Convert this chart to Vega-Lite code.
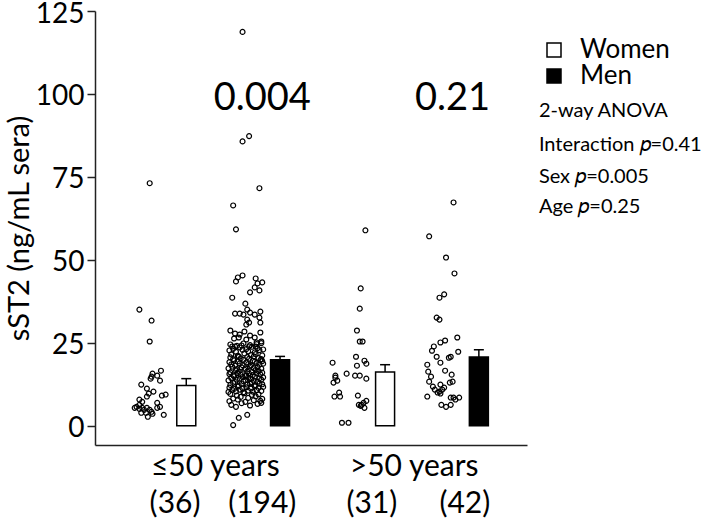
{
  "$schema": "https://vega.github.io/schema/vega-lite/v6.json",
  "autosize": {"type": "none"},
  "padding": {"left": 95, "top": 11, "right": 182, "bottom": 75},
  "width": 432,
  "height": 434,
  "config": {
    "font": "Lato",
    "view": {"stroke": null},
    "axis": {"grid": false, "labelColor": "black", "titleColor": "black"}
  },
  "datasets": {
    "points": [
      {"grp":"Women ≤50","pos":0.42,"value":35.0},{"grp":"Women ≤50","pos":0.55,"value":31.7},{"grp":"Women ≤50","pos":0.53,"value":25.4},{"grp":"Women ≤50","pos":0.65,"value":16.6},{"grp":"Women ≤50","pos":0.56,"value":15.7},{"grp":"Women ≤50","pos":0.55,"value":14.8},{"grp":"Women ≤50","pos":0.61,"value":15.1},{"grp":"Women ≤50","pos":0.64,"value":13.6},{"grp":"Women ≤50","pos":0.54,"value":14.2},{"grp":"Women ≤50","pos":0.44,"value":12.4},{"grp":"Women ≤50","pos":0.50,"value":11.2},{"grp":"Women ≤50","pos":0.57,"value":10.3},{"grp":"Women ≤50","pos":0.52,"value":9.7},{"grp":"Women ≤50","pos":0.66,"value":9.1},{"grp":"Women ≤50","pos":0.70,"value":9.4},{"grp":"Women ≤50","pos":0.50,"value":8.8},{"grp":"Women ≤50","pos":0.42,"value":7.9},{"grp":"Women ≤50","pos":0.45,"value":7.2},{"grp":"Women ≤50","pos":0.61,"value":6.9},{"grp":"Women ≤50","pos":0.64,"value":5.7},{"grp":"Women ≤50","pos":0.37,"value":5.4},{"grp":"Women ≤50","pos":0.42,"value":5.1},{"grp":"Women ≤50","pos":0.47,"value":4.8},{"grp":"Women ≤50","pos":0.50,"value":5.4},{"grp":"Women ≤50","pos":0.55,"value":4.2},{"grp":"Women ≤50","pos":0.61,"value":5.4},{"grp":"Women ≤50","pos":0.39,"value":5.7},{"grp":"Women ≤50","pos":0.44,"value":3.9},{"grp":"Women ≤50","pos":0.51,"value":2.7},{"grp":"Women ≤50","pos":0.56,"value":3.6},{"grp":"Women ≤50","pos":0.68,"value":3.3},{"grp":"Women ≤50","pos":0.42,"value":6.3},{"grp":"Women ≤50","pos":0.49,"value":3.9},{"grp":"Women ≤50","pos":0.45,"value":5.4},{"grp":"Women ≤50","pos":0.53,"value":4.8},{"grp":"Women ≤50","pos":0.53,"value":73.1},

      {"grp":"Men ≤50","pos":1.52,"value":118.7},{"grp":"Men ≤50","pos":1.52,"value":85.7},{"grp":"Men ≤50","pos":1.59,"value":87.3},{"grp":"Men ≤50","pos":1.70,"value":71.6},{"grp":"Men ≤50","pos":1.42,"value":66.4},{"grp":"Men ≤50","pos":1.45,"value":59.2},
      {"grp":"Men ≤50","pos":1.47,"value":44.7},{"grp":"Men ≤50","pos":1.52,"value":45.3},{"grp":"Men ≤50","pos":1.45,"value":43.5},{"grp":"Men ≤50","pos":1.66,"value":44.4},{"grp":"Men ≤50","pos":1.73,"value":43.2},{"grp":"Men ≤50","pos":1.68,"value":42.9},{"grp":"Men ≤50","pos":1.65,"value":41.7},{"grp":"Men ≤50","pos":1.70,"value":40.8},{"grp":"Men ≤50","pos":1.60,"value":40.2},{"grp":"Men ≤50","pos":1.41,"value":38.6},
      {"grp":"Men ≤50","pos":1.55,"value":36.8},{"grp":"Men ≤50","pos":1.57,"value":35.0},{"grp":"Men ≤50","pos":1.44,"value":33.8},{"grp":"Men ≤50","pos":1.49,"value":33.8},{"grp":"Men ≤50","pos":1.53,"value":33.5},{"grp":"Men ≤50","pos":1.60,"value":34.1},{"grp":"Men ≤50","pos":1.65,"value":33.5},{"grp":"Men ≤50","pos":1.71,"value":34.4},{"grp":"Men ≤50","pos":1.70,"value":32.6},{"grp":"Men ≤50","pos":1.57,"value":32.0},
      {"grp":"Men ≤50","pos":1.59,"value":31.1},{"grp":"Men ≤50","pos":1.71,"value":31.1},{"grp":"Men ≤50","pos":1.56,"value":30.5},{"grp":"Men ≤50","pos":1.39,"value":28.7},{"grp":"Men ≤50","pos":1.44,"value":27.8},{"grp":"Men ≤50","pos":1.49,"value":27.5},{"grp":"Men ≤50","pos":1.54,"value":28.4},{"grp":"Men ≤50","pos":1.60,"value":27.2},{"grp":"Men ≤50","pos":1.65,"value":26.6},{"grp":"Men ≤50","pos":1.71,"value":28.1},
      {"grp":"Men ≤50","pos":1.43,"value":26.3},{"grp":"Men ≤50","pos":1.48,"value":26.6},{"grp":"Men ≤50","pos":1.56,"value":26.0},{"grp":"Men ≤50","pos":1.67,"value":25.1},{"grp":"Men ≤50","pos":1.72,"value":25.4},{"grp":"Men ≤50","pos":1.41,"value":23.9},{"grp":"Men ≤50","pos":1.44,"value":23.9},{"grp":"Men ≤50","pos":1.51,"value":24.2},{"grp":"Men ≤50","pos":1.59,"value":23.9},{"grp":"Men ≤50","pos":1.66,"value":23.9},
      {"grp":"Men ≤50","pos":1.45,"value":5.7},{"grp":"Men ≤50","pos":1.48,"value":2.4},{"grp":"Men ≤50","pos":1.57,"value":3.3},{"grp":"Men ≤50","pos":1.42,"value":0.2},
      {"grp":"Men ≤50","pos":1.40,"value":6.3},{"grp":"Men ≤50","pos":1.51,"value":6.8},{"grp":"Men ≤50","pos":1.60,"value":6.1},{"grp":"Men ≤50","pos":1.68,"value":6.6},{"grp":"Men ≤50","pos":1.72,"value":6.9},
      {"grp":"Men ≤50","pos":1.38,"value":7.4},{"grp":"Men ≤50","pos":1.47,"value":7.9},{"grp":"Men ≤50","pos":1.55,"value":7.2},{"grp":"Men ≤50","pos":1.64,"value":7.7},{"grp":"Men ≤50","pos":1.71,"value":7.5},
      {"grp":"Men ≤50","pos":1.42,"value":8.2},{"grp":"Men ≤50","pos":1.50,"value":8.7},{"grp":"Men ≤50","pos":1.58,"value":8.4},{"grp":"Men ≤50","pos":1.66,"value":8.9},{"grp":"Men ≤50","pos":1.73,"value":8.1},
      {"grp":"Men ≤50","pos":1.39,"value":9.6},{"grp":"Men ≤50","pos":1.46,"value":9.1},{"grp":"Men ≤50","pos":1.54,"value":9.8},{"grp":"Men ≤50","pos":1.62,"value":9.3},{"grp":"Men ≤50","pos":1.69,"value":9.5},
      {"grp":"Men ≤50","pos":1.37,"value":10.2},{"grp":"Men ≤50","pos":1.41,"value":10.8},{"grp":"Men ≤50","pos":1.45,"value":10.4},{"grp":"Men ≤50","pos":1.49,"value":10.9},{"grp":"Men ≤50","pos":1.53,"value":10.1},{"grp":"Men ≤50","pos":1.58,"value":10.6},{"grp":"Men ≤50","pos":1.63,"value":10.3},{"grp":"Men ≤50","pos":1.67,"value":10.7},{"grp":"Men ≤50","pos":1.72,"value":10.5},
      {"grp":"Men ≤50","pos":1.38,"value":11.5},{"grp":"Men ≤50","pos":1.43,"value":11.1},{"grp":"Men ≤50","pos":1.47,"value":11.8},{"grp":"Men ≤50","pos":1.52,"value":11.3},{"grp":"Men ≤50","pos":1.56,"value":11.6},{"grp":"Men ≤50","pos":1.61,"value":11.2},{"grp":"Men ≤50","pos":1.65,"value":11.9},{"grp":"Men ≤50","pos":1.69,"value":11.4},{"grp":"Men ≤50","pos":1.74,"value":11.7},
      {"grp":"Men ≤50","pos":1.39,"value":12.3},{"grp":"Men ≤50","pos":1.42,"value":12.9},{"grp":"Men ≤50","pos":1.48,"value":12.1},{"grp":"Men ≤50","pos":1.51,"value":12.6},{"grp":"Men ≤50","pos":1.57,"value":12.4},{"grp":"Men ≤50","pos":1.60,"value":12.8},{"grp":"Men ≤50","pos":1.66,"value":12.2},{"grp":"Men ≤50","pos":1.70,"value":12.7},{"grp":"Men ≤50","pos":1.73,"value":12.5},
      {"grp":"Men ≤50","pos":1.37,"value":13.7},{"grp":"Men ≤50","pos":1.44,"value":13.2},{"grp":"Men ≤50","pos":1.46,"value":13.9},{"grp":"Men ≤50","pos":1.53,"value":13.4},{"grp":"Men ≤50","pos":1.55,"value":13.8},{"grp":"Men ≤50","pos":1.62,"value":13.1},{"grp":"Men ≤50","pos":1.64,"value":13.6},{"grp":"Men ≤50","pos":1.68,"value":13.3},{"grp":"Men ≤50","pos":1.72,"value":13.9},
      {"grp":"Men ≤50","pos":1.40,"value":14.4},{"grp":"Men ≤50","pos":1.43,"value":14.9},{"grp":"Men ≤50","pos":1.49,"value":14.2},{"grp":"Men ≤50","pos":1.52,"value":14.7},{"grp":"Men ≤50","pos":1.58,"value":14.5},{"grp":"Men ≤50","pos":1.61,"value":14.1},{"grp":"Men ≤50","pos":1.65,"value":14.8},{"grp":"Men ≤50","pos":1.70,"value":14.3},{"grp":"Men ≤50","pos":1.74,"value":14.6},
      {"grp":"Men ≤50","pos":1.38,"value":15.6},{"grp":"Men ≤50","pos":1.42,"value":15.2},{"grp":"Men ≤50","pos":1.47,"value":15.9},{"grp":"Men ≤50","pos":1.50,"value":15.4},{"grp":"Men ≤50","pos":1.56,"value":15.1},{"grp":"Men ≤50","pos":1.59,"value":15.7},{"grp":"Men ≤50","pos":1.63,"value":15.3},{"grp":"Men ≤50","pos":1.67,"value":15.8},{"grp":"Men ≤50","pos":1.71,"value":15.5},
      {"grp":"Men ≤50","pos":1.39,"value":16.1},{"grp":"Men ≤50","pos":1.45,"value":16.7},{"grp":"Men ≤50","pos":1.48,"value":16.3},{"grp":"Men ≤50","pos":1.54,"value":16.9},{"grp":"Men ≤50","pos":1.57,"value":16.4},{"grp":"Men ≤50","pos":1.62,"value":16.2},{"grp":"Men ≤50","pos":1.66,"value":16.8},{"grp":"Men ≤50","pos":1.69,"value":16.5},{"grp":"Men ≤50","pos":1.73,"value":16.0},
      {"grp":"Men ≤50","pos":1.37,"value":17.3},{"grp":"Men ≤50","pos":1.41,"value":17.8},{"grp":"Men ≤50","pos":1.46,"value":17.1},{"grp":"Men ≤50","pos":1.51,"value":17.6},{"grp":"Men ≤50","pos":1.55,"value":17.2},{"grp":"Men ≤50","pos":1.60,"value":17.9},{"grp":"Men ≤50","pos":1.64,"value":17.4},{"grp":"Men ≤50","pos":1.68,"value":17.7},{"grp":"Men ≤50","pos":1.72,"value":17.2},
      {"grp":"Men ≤50","pos":1.40,"value":18.5},{"grp":"Men ≤50","pos":1.44,"value":18.1},{"grp":"Men ≤50","pos":1.49,"value":18.8},{"grp":"Men ≤50","pos":1.52,"value":18.3},{"grp":"Men ≤50","pos":1.58,"value":18.6},{"grp":"Men ≤50","pos":1.61,"value":18.2},{"grp":"Men ≤50","pos":1.67,"value":18.9},{"grp":"Men ≤50","pos":1.70,"value":18.4},{"grp":"Men ≤50","pos":1.74,"value":18.7},
      {"grp":"Men ≤50","pos":1.38,"value":19.2},{"grp":"Men ≤50","pos":1.43,"value":19.7},{"grp":"Men ≤50","pos":1.47,"value":19.4},{"grp":"Men ≤50","pos":1.53,"value":19.9},{"grp":"Men ≤50","pos":1.56,"value":19.1},{"grp":"Men ≤50","pos":1.63,"value":19.6},{"grp":"Men ≤50","pos":1.65,"value":19.3},{"grp":"Men ≤50","pos":1.71,"value":19.8},{"grp":"Men ≤50","pos":1.73,"value":19.5},
      {"grp":"Men ≤50","pos":1.39,"value":20.6},{"grp":"Men ≤50","pos":1.42,"value":20.1},{"grp":"Men ≤50","pos":1.48,"value":20.8},{"grp":"Men ≤50","pos":1.50,"value":20.3},{"grp":"Men ≤50","pos":1.57,"value":20.7},{"grp":"Men ≤50","pos":1.59,"value":20.2},{"grp":"Men ≤50","pos":1.64,"value":20.9},{"grp":"Men ≤50","pos":1.69,"value":20.4},{"grp":"Men ≤50","pos":1.72,"value":20.1},
      {"grp":"Men ≤50","pos":1.40,"value":21.5},{"grp":"Men ≤50","pos":1.47,"value":21.1},{"grp":"Men ≤50","pos":1.54,"value":21.8},{"grp":"Men ≤50","pos":1.61,"value":21.3},{"grp":"Men ≤50","pos":1.66,"value":21.6},{"grp":"Men ≤50","pos":1.73,"value":21.2},
      {"grp":"Men ≤50","pos":1.38,"value":22.7},{"grp":"Men ≤50","pos":1.45,"value":22.3},{"grp":"Men ≤50","pos":1.52,"value":22.9},{"grp":"Men ≤50","pos":1.58,"value":22.4},{"grp":"Men ≤50","pos":1.65,"value":22.1},{"grp":"Men ≤50","pos":1.70,"value":22.8},
      {"grp":"Men ≤50","pos":1.42,"value":23.2},{"grp":"Men ≤50","pos":1.49,"value":23.6},{"grp":"Men ≤50","pos":1.56,"value":23.1},{"grp":"Men ≤50","pos":1.62,"value":23.8},{"grp":"Men ≤50","pos":1.68,"value":23.4},{"grp":"Men ≤50","pos":1.74,"value":23.0},
      {"grp":"Men ≤50","pos":1.39,"value":24.5},{"grp":"Men ≤50","pos":1.46,"value":24.1},{"grp":"Men ≤50","pos":1.53,"value":24.8},{"grp":"Men ≤50","pos":1.60,"value":24.3},{"grp":"Men ≤50","pos":1.67,"value":24.6},{"grp":"Men ≤50","pos":1.72,"value":24.9},
      {"grp":"Men ≤50","pos":1.55,"value":15.0},

      {"grp":"Women >50","pos":2.83,"value":58.9},{"grp":"Women >50","pos":2.78,"value":41.4},{"grp":"Women >50","pos":2.77,"value":35.3},{"grp":"Women >50","pos":2.74,"value":28.7},{"grp":"Women >50","pos":2.77,"value":25.4},{"grp":"Women >50","pos":2.80,"value":25.4},{"grp":"Women >50","pos":2.73,"value":20.8},{"grp":"Women >50","pos":2.82,"value":19.6},{"grp":"Women >50","pos":2.84,"value":18.7},{"grp":"Women >50","pos":2.48,"value":19.0},{"grp":"Women >50","pos":2.74,"value":18.1},{"grp":"Women >50","pos":2.63,"value":15.7},{"grp":"Women >50","pos":2.72,"value":15.1},{"grp":"Women >50","pos":2.77,"value":15.1},{"grp":"Women >50","pos":2.51,"value":15.1},{"grp":"Women >50","pos":2.53,"value":13.6},{"grp":"Women >50","pos":2.49,"value":13.0},{"grp":"Women >50","pos":2.84,"value":14.2},{"grp":"Women >50","pos":2.55,"value":10.0},{"grp":"Women >50","pos":2.50,"value":8.8},{"grp":"Women >50","pos":2.56,"value":8.8},{"grp":"Women >50","pos":2.75,"value":9.1},{"grp":"Women >50","pos":2.84,"value":7.5},{"grp":"Women >50","pos":2.81,"value":6.9},{"grp":"Women >50","pos":2.76,"value":6.3},{"grp":"Women >50","pos":2.79,"value":6.3},{"grp":"Women >50","pos":2.82,"value":5.4},{"grp":"Women >50","pos":2.58,"value":0.9},{"grp":"Women >50","pos":2.65,"value":0.9},{"grp":"Women >50","pos":2.78,"value":6.0},{"grp":"Women >50","pos":2.51,"value":14.5},

      {"grp":"Men >50","pos":3.77,"value":67.3},{"grp":"Men >50","pos":3.51,"value":57.1},{"grp":"Men >50","pos":3.69,"value":50.7},{"grp":"Men >50","pos":3.78,"value":45.9},{"grp":"Men >50","pos":3.62,"value":38.6},{"grp":"Men >50","pos":3.67,"value":39.6},{"grp":"Men >50","pos":3.59,"value":32.6},{"grp":"Men >50","pos":3.62,"value":32.0},{"grp":"Men >50","pos":3.81,"value":26.6},{"grp":"Men >50","pos":3.63,"value":25.1},{"grp":"Men >50","pos":3.68,"value":25.7},{"grp":"Men >50","pos":3.56,"value":23.9},{"grp":"Men >50","pos":3.54,"value":22.6},{"grp":"Men >50","pos":3.82,"value":22.3},{"grp":"Men >50","pos":3.59,"value":20.8},{"grp":"Men >50","pos":3.72,"value":20.5},{"grp":"Men >50","pos":3.74,"value":20.8},{"grp":"Men >50","pos":3.49,"value":18.4},{"grp":"Men >50","pos":3.63,"value":19.0},{"grp":"Men >50","pos":3.50,"value":16.3},{"grp":"Men >50","pos":3.68,"value":16.6},{"grp":"Men >50","pos":3.53,"value":14.8},{"grp":"Men >50","pos":3.75,"value":15.4},{"grp":"Men >50","pos":3.51,"value":13.3},{"grp":"Men >50","pos":3.55,"value":11.8},{"grp":"Men >50","pos":3.63,"value":12.4},{"grp":"Men >50","pos":3.73,"value":13.0},{"grp":"Men >50","pos":3.76,"value":13.3},{"grp":"Men >50","pos":3.57,"value":10.9},{"grp":"Men >50","pos":3.60,"value":10.0},{"grp":"Men >50","pos":3.65,"value":10.9},{"grp":"Men >50","pos":3.67,"value":11.5},{"grp":"Men >50","pos":3.63,"value":9.7},{"grp":"Men >50","pos":3.49,"value":8.8},{"grp":"Men >50","pos":3.74,"value":8.5},{"grp":"Men >50","pos":3.77,"value":8.5},{"grp":"Men >50","pos":3.83,"value":8.5},{"grp":"Men >50","pos":3.79,"value":7.9},{"grp":"Men >50","pos":3.64,"value":6.3},{"grp":"Men >50","pos":3.69,"value":5.7},{"grp":"Men >50","pos":3.74,"value":6.3},{"grp":"Men >50","pos":3.62,"value":10.3}
    ],
    "bars": [
      {"sex":"Women","age":"≤50","pos":0.92,"mean":12.1,"upper":14.2},
      {"sex":"Men","age":"≤50","pos":1.92,"mean":19.9,"upper":20.9},
      {"sex":"Women","age":">50","pos":3.04,"mean":16.2,"upper":18.4},
      {"sex":"Men","age":">50","pos":4.04,"mean":20.7,"upper":22.9}
    ],
    "pvals": [
      {"label":"0.004","pos":1.73,"value":95.2},
      {"label":"0.21","pos":3.76,"value":95.2}
    ],
    "xlabels": [
      {"label":"≤50 years","pos":1.23,"value":-15.1},
      {"label":">50 years","pos":3.35,"value":-15.1},
      {"label":"(36)","pos":0.80,"value":-26.2},
      {"label":"(194)","pos":1.73,"value":-26.2},
      {"label":"(31)","pos":2.90,"value":-26.2},
      {"label":"(42)","pos":3.89,"value":-26.2}
    ],
    "stats": [
      {"label":"2-way ANOVA","pos":4.68,"value":93.2},
      {"label":"Interaction 𝑝=0.41","pos":4.68,"value":82.7},
      {"label":"Sex 𝑝=0.005","pos":4.68,"value":73.1},
      {"label":"Age 𝑝=0.25","pos":4.68,"value":64.1}
    ]
  },
  "layer": [
    {
      "data": {"name": "points"},
      "mark": {"type": "point", "shape": "circle", "filled": false, "stroke": "black", "strokeWidth": 1.2, "size": 24, "opacity": 1},
      "encoding": {
        "x": {"field": "pos", "type": "quantitative", "scale": {"domain": [0, 4.5], "nice": false, "zero": false},
              "axis": {"labels": false, "ticks": false, "title": null, "domainColor": "#222", "domainWidth": 1.5}},
        "y": {"field": "value", "type": "quantitative", "scale": {"domain": [-5.8, 125], "nice": false, "zero": false},
              "title": "sST2 (ng/mL sera)",
              "axis": {"values": [0, 25, 50, 75, 100, 125], "labelFontSize": 28, "tickSize": 8, "labelPadding": 3, "labelOffset": 3,
                       "tickColor": "#222", "tickWidth": 1.5, "domainColor": "#222", "domainWidth": 1.5,
                       "titleFontSize": 29, "titleFontWeight": "normal", "titlePadding": 1}}
      }
    },
    {
      "data": {"name": "bars"},
      "mark": {"type": "bar", "size": 19, "stroke": "black", "strokeWidth": 1.5},
      "encoding": {
        "x": {"field": "pos", "type": "quantitative"},
        "y": {"field": "mean", "type": "quantitative", "title": "sST2 (ng/mL sera)"},
        "color": {"field": "sex", "type": "nominal", "scale": {"domain": ["Women", "Men"], "range": ["white", "black"]},
                  "legend": {"title": null, "symbolType": "square", "symbolSize": 196, "symbolStrokeColor": "black",
                             "symbolStrokeWidth": 1.5, "labelFontSize": 26, "labelColor": "black", "labelOffset": 13,
                             "rowPadding": 0, "offset": -12, "padding": 26}}
      }
    },
    {
      "data": {"name": "bars"},
      "mark": {"type": "rule", "color": "black", "strokeWidth": 1.5},
      "encoding": {
        "x": {"field": "pos", "type": "quantitative"},
        "y": {"field": "mean", "type": "quantitative", "title": "sST2 (ng/mL sera)"},
        "y2": {"field": "upper"}
      }
    },
    {
      "data": {"name": "bars"},
      "mark": {"type": "tick", "orient": "horizontal", "color": "black", "size": 10, "thickness": 1.5, "opacity": 1},
      "encoding": {
        "x": {"field": "pos", "type": "quantitative"},
        "y": {"field": "upper", "type": "quantitative", "title": "sST2 (ng/mL sera)"}
      }
    },
    {
      "data": {"name": "pvals"},
      "mark": {"type": "text", "fontSize": 38, "align": "center", "baseline": "alphabetic", "color": "black"},
      "encoding": {
        "x": {"field": "pos", "type": "quantitative"},
        "y": {"field": "value", "type": "quantitative", "title": "sST2 (ng/mL sera)"},
        "text": {"field": "label"}
      }
    },
    {
      "data": {"name": "xlabels"},
      "mark": {"type": "text", "fontSize": 30, "align": "center", "baseline": "alphabetic", "color": "black"},
      "encoding": {
        "x": {"field": "pos", "type": "quantitative"},
        "y": {"field": "value", "type": "quantitative", "title": "sST2 (ng/mL sera)"},
        "text": {"field": "label"}
      }
    },
    {
      "data": {"name": "stats"},
      "mark": {"type": "text", "fontSize": 20, "align": "left", "baseline": "alphabetic", "color": "black"},
      "encoding": {
        "x": {"field": "pos", "type": "quantitative"},
        "y": {"field": "value", "type": "quantitative", "title": "sST2 (ng/mL sera)"},
        "text": {"field": "label"}
      }
    }
  ]
}
